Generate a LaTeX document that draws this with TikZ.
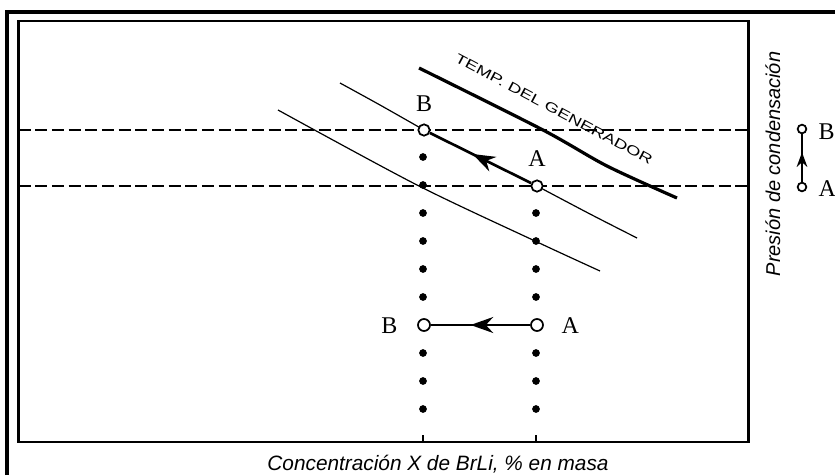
\documentclass[tikz,border=0pt]{standalone}
\usepackage{fontspec}
\setmainfont{Liberation Serif}
\setsansfont{Liberation Sans}
\usepackage{graphicx}
\usetikzlibrary{arrows.meta,decorations.markings}
\begin{document}
\begin{tikzpicture}[x=0.75pt,y=-0.75pt,
  opencirc/.style={circle,draw,line width=1.3pt,minimum size=8.5pt,inner sep=0pt,fill=white},
  dotcirc/.style={circle,draw,line width=1.3pt,minimum size=9pt,inner sep=0pt,fill=white,
     path picture={\fill (path picture bounding box.center) circle (1.6pt);}},
  smallcirc/.style={circle,draw,line width=1.3pt,minimum size=6.5pt,inner sep=0pt,fill=white},
  blackdot/.style={circle,fill,minimum size=5.8pt,inner sep=0pt},
  lbl/.style={font=\fontsize{18}{20}\selectfont},
  dashline/.style={line width=1.3pt,dash pattern=on 9pt off 3.5pt},
  thincurve/.style={line width=0.9pt},
  arrowmid/.style={postaction={decorate,decoration={markings,
     mark=at position #1 with {\arrow{Stealth[length=17pt,width=12pt]}}}}},
]
\useasboundingbox (0,0) rectangle (835,475);
\fill[white] (0,0) rectangle (835,475);
% frames
\draw[line width=2.4pt] (7,475) -- (7,12) -- (835,12);
\draw[line width=1.6pt] (18.5,21) rectangle (748.5,442);
% axis ticks
\draw[line width=1.2pt] (423,442) -- (423,435);
\draw[line width=1.2pt] (536,442) -- (536,435);
% dashed pressure lines
\draw[dashline] (18.5,130) -- (748.5,130);
\draw[dashline] (18.5,186) -- (748.5,186);
% dotted concentration columns
\foreach \y in {157,185,213,241,269,297,353,381,409}
  \node[blackdot] (dl\y) at (423,\y) {};
\foreach \y in {213,241,269,297,353,381,409}
  \node[blackdot] (dr\y) at (536,\y) {};
% curves
\draw[thincurve] plot[smooth] coordinates {(278,110) (417,185) (535,241) (600,271)};
\draw[thincurve] plot[smooth] coordinates {(340,83) (380,105) (424,130)};
\draw[thincurve] plot[smooth] coordinates {(537,186) (590,214) (637,238)};
\draw[line width=2.4pt] plot[smooth] coordinates {(419,68) (543,130) (607,166) (677,198)};
\node[rotate=-28] (tg) at (554,109)
  {\resizebox{166pt}{7pt}{\sffamily TEMP. DEL GENERADOR}};
% points B and A
\node[opencirc] (Bt) at (424,130) {};
\node[opencirc] (At) at (537,186) {};
\draw[line width=2pt,arrowmid=0.58] (At) -- (Bt);
\node[lbl] (lBt) at (424,104) {B};
\node[lbl] (lAt) at (537,159) {A};
% bottom pair
\node[dotcirc] (Bb) at (424,325) {};
\node[dotcirc] (Ab) at (537,325) {};
\draw[line width=1.1pt,arrowmid=0.6] (Ab) -- (Bb);
\node[lbl,anchor=east] (lBb) at (402,326) {B};
\node[lbl,anchor=west] (lAb) at (557,326) {A};
% right indicator
\node[smallcirc] (Br) at (802,129) {};
\node[smallcirc] (Ar) at (802,187) {};
\draw[line width=1.6pt,postaction={decorate,decoration={markings,
     mark=at position 0.62 with {\arrow{Stealth[length=11pt,width=8pt]}}}}] (Ar) -- (Br);
\node[lbl,anchor=west] (lBr) at (814,132) {B};
\node[lbl,anchor=west] (lAr) at (814,189) {A};
% axis labels
\node[rotate=90,anchor=base,font=\sffamily\itshape\fontsize{15}{18}\selectfont] (ylab) at (780,164) {Presión de condensación};
\node[anchor=base,font=\sffamily\itshape\fontsize{15.6}{19}\selectfont] (xlab) at (438,470) {Concentración X de BrLi, \% en masa};
\end{tikzpicture}
\end{document}
